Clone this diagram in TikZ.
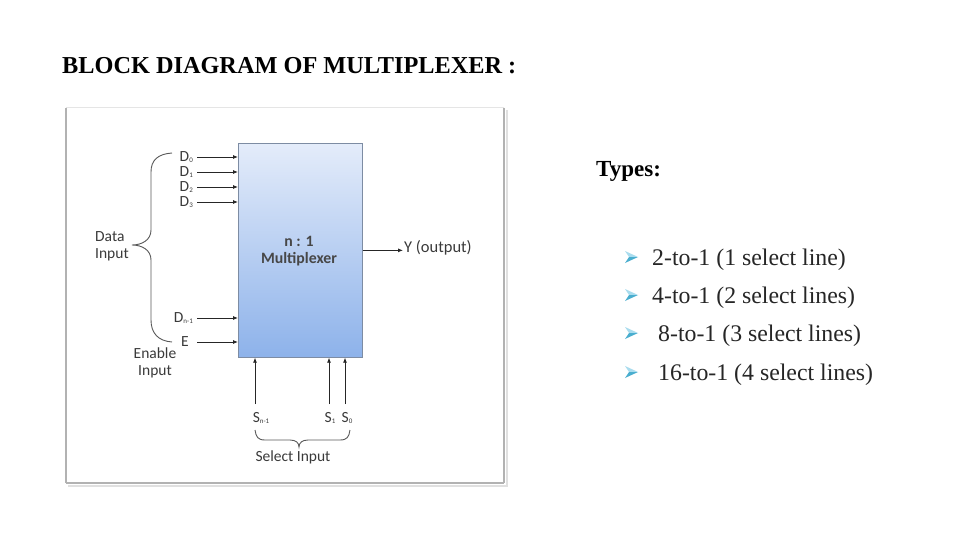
\documentclass[tikz,border=0pt]{standalone}
\usepackage{fontspec}
\setmainfont{Liberation Serif}
\newfontfamily\diag{Carlito}
\usetikzlibrary{arrows.meta}
\definecolor{txtgray}{HTML}{3A3A3A}
\definecolor{boxtop}{HTML}{E4ECFA}
\definecolor{boxbot}{HTML}{8DB2EA}
\definecolor{boxline}{HTML}{7D8CA3}
\definecolor{bulA}{HTML}{A9DCEE}
\definecolor{bulB}{HTML}{4AAECF}
\newcommand\sbs[1]{\raisebox{-0.8pt}{\fontsize{7}{7}\selectfont #1}}
\begin{document}
\begin{tikzpicture}[x=1pt,y=-1pt,
  lbl/.style={font=\diag\fontsize{15.5}{17}\selectfont, text=txtgray, inner sep=0pt},
  sig/.style={-{Latex[length=5pt,width=4pt]}, line width=0.8pt, draw=black!85},
  bracepath/.style={draw=black!65, line width=0.9pt},
  title/.style={font=\fontsize{24.3}{28}\selectfont\bfseries, inner sep=0pt},
  item/.style={font=\fontsize{23.8}{27}\selectfont, text=black!85, inner sep=0pt, anchor=base west},
  bullet/.pic={
    \fill[bulA] (7,0) -- (-6,-6) -- (-2,0) -- cycle;
    \fill[bulB] (7,0) -- (-2,0) -- (-6,6) -- cycle;
  }]
\useasboundingbox (0,0) rectangle (960,540);
\fill[white] (0,0) rectangle (960,540);

% title
\node[title, anchor=base west] (ttl) at (62,74) {BLOCK DIAGRAM OF MULTIPLEXER :};

% picture frame with soft shadow
\draw[black!10, line width=1pt] (66,108) -- (504,108);
\draw[black!30, line width=2pt] (66,108) -- (66,483);
\draw[black!30, line width=2pt] (66,483) -- (504,483);
\draw[black!30, line width=2pt] (504,108) -- (504,483);
\draw[black!12, line width=2pt] (68,486) -- (507,486) -- (507,110);

% block
\node[draw=boxline, line width=0.7pt, top color=boxtop, bottom color=boxbot,
      minimum width=124pt, minimum height=214pt, anchor=north west, inner sep=0pt] (mux) at (238,143) {};
\node[lbl, font=\diag\fontsize{15.8}{17}\selectfont\bfseries, text=black!72, align=center] (muxtxt) at (299,251) {n : 1\\Multiplexer};

% data inputs
\node[lbl, anchor=east] (d0) at (193,157) {D\sbs{0}};
\node[lbl, anchor=east] (d1) at (193,172) {D\sbs{1}};
\node[lbl, anchor=east] (d2) at (193,187) {D\sbs{2}};
\node[lbl, anchor=east] (d3) at (193,202) {D\sbs{3}};
\node[lbl, anchor=east] (dn) at (193,318) {D\sbs{n-1}};
\node[lbl, anchor=east] (en) at (189,342) {E};
\foreach \n in {d0,d1,d2,d3,dn}
  \draw[sig] ([xshift=4pt]\n.east) -- (\n -| mux.west);
\draw[sig] ([xshift=8pt]en.east) -- (en -| mux.west);

% data brace
\draw[bracepath] (172,153) .. controls (158,154) and (151,160) .. (151,172)
  -- (151,230) .. controls (151,240) and (142,245) .. (132,245)
  .. controls (142,245) and (151,250) .. (151,260)
  -- (151,320) .. controls (151,333) and (158,341) .. (172,342);
\node[lbl, align=left, anchor=west] (datain) at (95,246) {Data\\Input};
\node[lbl, align=center] (enin) at (155,363) {Enable\\Input};

% output
\node[lbl, anchor=west, font=\diag\fontsize{16.5}{17}\selectfont] (yout) at (404,248) {Y (output)};
\draw[sig] (mux.east) -- ([xshift=-1pt]yout.west |- mux.east);

% select inputs
\coordinate (sa) at (255,404);
\coordinate (sb) at (329,404);
\coordinate (sc) at (345,404);
\foreach \c in {sa,sb,sc}
  \draw[sig] (\c) -- (\c |- mux.south);
\node[lbl] (sn1) at (261,418) {S\sbs{n-1}};
\node[lbl] (s1) at (330,418) {S\sbs{1}};
\node[lbl] (s0) at (347,418) {S\sbs{0}};
\draw[bracepath] (255,430) .. controls (256,437) and (258,440) .. (265,440)
  -- (290,440) .. controls (296,440) and (299,443) .. (299,447)
  .. controls (299,443) and (302,440) .. (308,440)
  -- (340,440) .. controls (347,440) and (349,437) .. (350,430);
\node[lbl] (selin) at (293,457) {Select Input};

% types list
\node[title, font=\fontsize{23}{27}\selectfont\bfseries, anchor=base west] (types) at (596,177) {Types:};
\pic at (631,257) {bullet};
\pic at (631,295) {bullet};
\pic at (631,333) {bullet};
\pic at (631,372) {bullet};
\node[item] (t1) at (652,265) {2-to-1 (1 select line)};
\node[item] (t2) at (652,303) {4-to-1 (2 select lines)};
\node[item] (t3) at (658,341) {8-to-1 (3 select lines)};
\node[item] (t4) at (658,380) {16-to-1 (4 select lines)};
\end{tikzpicture}
\end{document}
